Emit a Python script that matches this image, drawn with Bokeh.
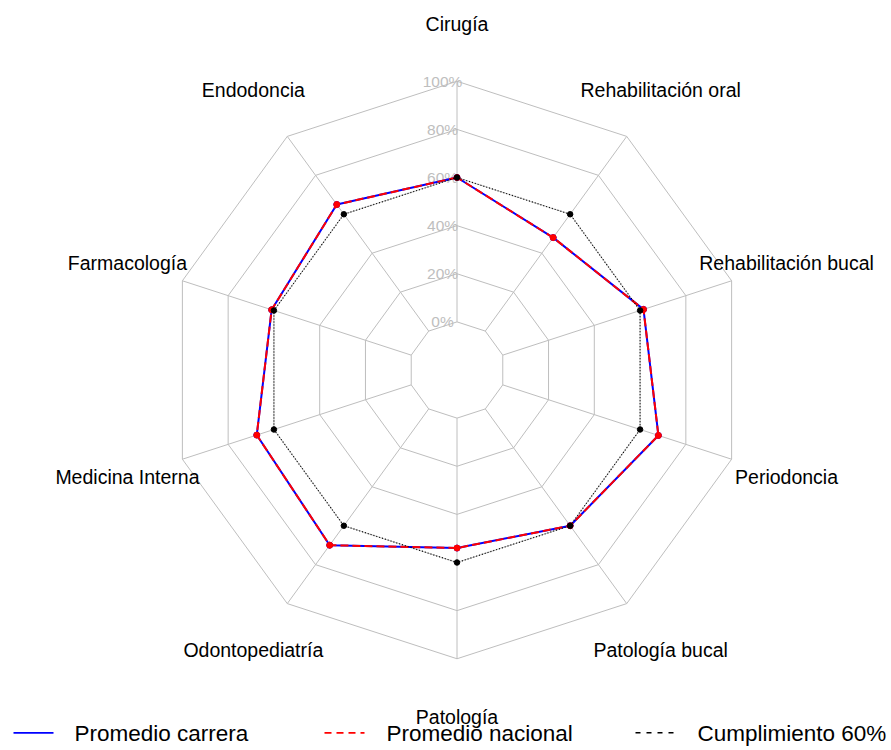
import numpy as np
from bokeh.plotting import figure
from bokeh.models import Range1d
from bokeh.core.properties import value
from bokeh.embed import file_html
from bokeh.resources import INLINE

# ---------------- data ----------------
categories = ["Cirugía", "Endodoncia", "Farmacología", "Medicina Interna",
              "Odontopediatría", "Patología", "Patología bucal", "Periodoncia",
              "Rehabilitación bucal", "Rehabilitación oral"]
promedio_carrera = [60, 65, 61, 67.5, 70, 54, 60, 68, 61.5, 48]
promedio_nacional = [60, 65, 61, 67.5, 70, 54, 60, 68, 61.5, 48]
cumplimiento = [60, 60, 60, 60, 60, 60, 60, 60, 60, 60]
ring_labels = ["0%", "20%", "40%", "60%", "80%", "100%"]
series_names = ["Promedio carrera", "Promedio nacional", "Cumplimiento 60%"]

# ---------------- layout ----------------
W, H = 891, 750
CX, CY = 456.5, 369.5      # radar centre in figure pixels
RPX = 288.75               # pixels for the outer ring
SEG = 5
FONT = value("Liberation Sans")

def to_data(xp, yp):
    return (xp - CX) / RPX, (CY - yp) / RPX

p = figure(width=W, height=H,
           x_range=Range1d(-CX / RPX, (W - CX) / RPX),
           y_range=Range1d(-(H - CY) / RPX, CY / RPX),
           x_axis_type=None, y_axis_type=None,
           toolbar_location=None, output_backend="svg",
           min_border=0, outline_line_color=None,
           background_fill_color="white", border_fill_color="white")

n = len(categories)
theta = np.pi / 2 + np.arange(n) * 2 * np.pi / n
ct, st = np.cos(theta), np.sin(theta)

def radius(vals):
    v = np.asarray(vals, dtype=float)
    return v / 100.0 * SEG / (SEG + 1) + 1.0 / (SEG + 1)

# grid rings
grid_col = "#bebebe"
ring_xs, ring_ys = [], []
for i in range(SEG + 1):
    r = (i + 1) / (SEG + 1)
    ring_xs.append(list(np.append(r * ct, r * ct[0])))
    ring_ys.append(list(np.append(r * st, r * st[0])))
p.multi_line(ring_xs, ring_ys, line_color=grid_col, line_width=1)
r0 = 1 / (SEG + 1)
p.segment(x0=r0 * ct, y0=r0 * st, x1=ct, y1=st, line_color=grid_col, line_width=1)

# ring labels
p.text(x=[-0.05] * len(ring_labels),
       y=[(i + 1) / (SEG + 1) for i in range(len(ring_labels))],
       text=ring_labels, text_font=FONT, text_font_size="15.5px",
       text_color=grid_col, text_align="center", text_baseline="middle")

# category labels
p.text(x=1.2 * ct, y=1.2 * st, text=categories, text_font=FONT,
       text_font_size="19.5px", text_color="black",
       text_align="center", text_baseline="middle")

# series
styles = [
    dict(color="blue", dash="solid", width=2, size=6),
    dict(color="red", dash="8 4", width=2, size=6),
    dict(color="black", dash="1 2", width=1.2, size=5.5),
]
for vals, st_ in zip([promedio_carrera, promedio_nacional, cumplimiento], styles):
    r = radius(vals)
    xs = r * ct
    ys = r * st
    p.line(np.append(xs, xs[0]), np.append(ys, ys[0]), line_color=st_["color"],
           line_width=st_["width"], line_dash=st_["dash"])
    p.scatter(xs, ys, size=st_["size"], fill_color=st_["color"],
              line_color=st_["color"], marker="circle")

# legend (manual, bottom row)
leg_keys = [(13, 53), (324, 364), (635, 673)]
leg_text_x = [74, 386, 697]
leg_dash = ["solid", "7 5", "5 6"]
leg_col = ["blue", "red", "black"]
leg_w = [1.8, 1.8, 1.4]
key_y = 732.3
for (k0, k1), tx, name, dsh, col, lw in zip(leg_keys, leg_text_x, series_names,
                                          leg_dash, leg_col, leg_w):
    x0, y0 = to_data(k0, key_y)
    x1, _ = to_data(k1, key_y)
    p.line([x0, x1], [y0, y0], line_color=col, line_width=lw, line_dash=dsh)
    tx_d, ty_d = to_data(tx, key_y + 0.5)
    p.text(x=[tx_d], y=[ty_d], text=[name], text_font=FONT,
           text_font_size="22.5px", text_color="black",
           text_align="left", text_baseline="middle")

open("out.html", "w").write(file_html(p, INLINE))
